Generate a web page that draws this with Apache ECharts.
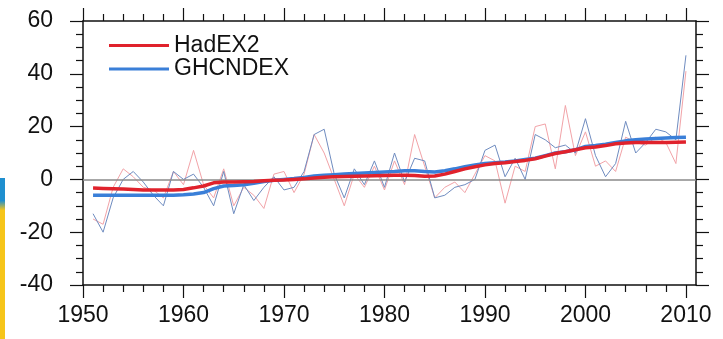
<!DOCTYPE html>
<html><head><meta charset="utf-8">
<script src="https://cdn.jsdelivr.net/npm/echarts@6/dist/echarts.min.js"></script>
<style>html,body{margin:0;padding:0;background:#fff}#c{width:723px;height:339px}</style>
</head><body><div id="c"></div>
<script>
const years = [];
for (let y = 1951; y <= 2010; y++) years.push(y);

const hadex2Annual = [-15,-17,-3,4,1,-3,-4,-7,3,-2, 11,-2,-7,4,-10,-3,-6,-11,2,3, -5,2,17,10,0,-10,2,-3,5,-4, 7,-2,17,5,-7,-3,-1,-5,2,9, 7,-9,5,3,20,21,4,28,9,18, 5,7,3,16,14,13,16,14,6,41];
const ghcndexAnnual = [-13,-20,-7,0,3,-1,-6,-10,3,0, 2,-3,-10,3,-13,-2,-8,-3,1,-4, -3,3,17,19,2,-7,4,-2,7,-3, 10,-1,8,7,-7,-6,-3,-2,0,11, 13,1,8,0,17,15,12,13,10,23, 9,1,6,22,10,14,19,18,15,47];
const hadex2Smooth = [-3.3,-3.4,-3.5,-3.6,-3.8,-4,-4,-4,-4,-3.8, -3.2,-2.5,-1.3,-1,-1,-0.9,-0.8,-0.5,-0.3,-0.2, 0,0.2,0.5,0.8,1,1.1,1.2,1.3,1.4,1.5, 1.6,1.6,1.5,1.2,1.3,2,3,4,4.8,5.5, 6,6.3,6.8,7.2,7.8,8.8,9.8,10.5,11.2,12, 12.3,12.8,13.5,13.8,14,14,14,14,14.1,14.2];
const ghcndexSmooth = [-6,-6,-6,-6,-6,-6,-6,-6,-6,-5.8, -5.5,-5,-3.5,-2.5,-2.3,-2,-1.5,-0.8,-0.3,0, 0.3,0.7,1.3,1.6,1.8,2,2.2,2.4,2.6,2.8, 3,3.3,3.3,3,2.8,3.3,4,4.8,5.5,6, 6.3,6.6,7,7.5,8,9,10,10.5,11.2,12.5, 12.8,13.3,14,14.6,15,15.3,15.5,15.7,15.9,16];

const xMajor = [1950,1960,1970,1980,1990,2000,2010];
const xMinor = [];
for (let y = 1952; y <= 2010; y += 2) if (y % 10 !== 0) xMinor.push(y);
const yMajor = [-40,-20,0,20,40,60];
const yMinor = [];
for (let v = -35; v <= 60; v += 5) if (v % 20 !== 0) yMinor.push(v);

const pair = arr => years.map((y, i) => [y, arr[i]]);

const FONT = 'Liberation Sans, Arial, sans-serif';
const lineCol = '#111';
function xAx(pos, vals, len, withLine, labels) {
  return {
    type: 'value', position: pos, min: 1950, max: 2011, gridIndex: 0,
    axisLine: {show: withLine, onZero: false, lineStyle: {color: lineCol, width: 1.5}},
    axisTick: {show: true, inside: false, length: len, customValues: vals, lineStyle: {color: lineCol, width: 1.2}},
    axisLabel: labels ? {show: true, customValues: vals, formatter: v => String(v), fontSize: 23, fontFamily: FONT, color: '#111', margin: 19} : {show: false},
    splitLine: {show: false}
  };
}
function yAx(pos, vals, len, withLine, labels) {
  return {
    type: 'value', position: pos, min: -40, max: 60, gridIndex: 0,
    axisLine: {show: withLine, onZero: false, lineStyle: {color: lineCol, width: 1.5}},
    axisTick: {show: true, inside: false, length: len, customValues: vals, lineStyle: {color: lineCol, width: 1.2}},
    axisLabel: labels ? {show: true, customValues: vals, formatter: v => String(v), fontSize: 23, fontFamily: FONT, color: '#111', margin: 30} : {show: false},
    splitLine: {show: false}
  };
}

const chart = echarts.init(document.getElementById('c'), null, {renderer: 'canvas'});
chart.setOption({
  animation: false,
  backgroundColor: '#fff',
  grid: {left: 83, right: 27, top: 21, bottom: 54, containLabel: false},
  xAxis: [
    xAx('bottom', xMajor, 13, true, true),
    xAx('bottom', xMinor, 7, false, false),
    xAx('top', xMajor, 13, true, false),
    xAx('top', xMinor, 7, false, false)
  ],
  yAxis: [
    yAx('left', yMajor, 13, true, true),
    yAx('left', yMinor, 7, false, false),
    yAx('right', yMajor, 13, true, false),
    yAx('right', yMinor, 7, false, false)
  ],
  legend: {
    orient: 'vertical', left: 109, top: 34, padding: 0, itemGap: 0.5,
    itemWidth: 60, itemHeight: 3,
    data: [
      {name: 'HadEX2', icon: 'rect', itemStyle: {color: '#e0222c'}},
      {name: 'GHCNDEX', icon: 'rect', itemStyle: {color: '#3a7fd8'}}
    ],
    textStyle: {fontSize: 23, fontFamily: FONT, color: '#111', lineHeight: 23}
  },
  series: [
    {name: 'HadEX2 annual', type: 'line', data: pair(hadex2Annual), symbol: 'none',
     lineStyle: {color: '#f2a3a8', width: 1}, z: 2,
     markLine: {silent: true, symbol: 'none', label: {show: false},
       lineStyle: {color: '#8a8a8a', width: 1.5, type: 'solid'}, data: [{yAxis: 0}]}},
    {name: 'GHCNDEX annual', type: 'line', data: pair(ghcndexAnnual), symbol: 'none',
     lineStyle: {color: '#6f8cc0', width: 1}, z: 3},
    {name: 'GHCNDEX', type: 'line', data: pair(ghcndexSmooth), symbol: 'none',
     itemStyle: {color: '#3a7fd8'}, lineStyle: {color: '#3a7fd8', width: 3.5}, z: 4},
    {name: 'HadEX2', type: 'line', data: pair(hadex2Smooth), symbol: 'none',
     itemStyle: {color: '#e0222c'}, lineStyle: {color: '#e0222c', width: 3.5}, z: 5}
  ],
  graphic: [
    {type: 'rect', left: 0, top: 178, shape: {width: 5, height: 161}, z: 100,
     style: {fill: new echarts.graphic.LinearGradient(0, 0, 0, 1, [
       {offset: 0, color: '#1f8fcf'}, {offset: 0.14, color: '#1f8fcf'},
       {offset: 0.2, color: '#f6c51a'}, {offset: 1, color: '#f6c51a'}])}}
  ]
});
</script></body></html>
